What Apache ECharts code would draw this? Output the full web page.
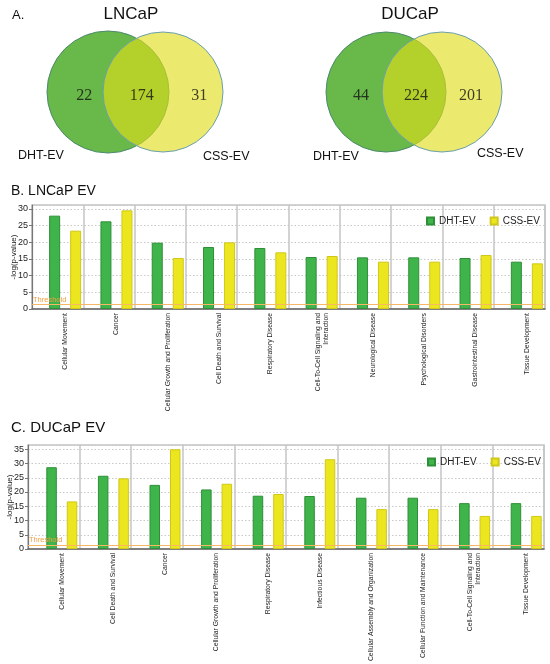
<!DOCTYPE html>
<html><head><meta charset="utf-8">
<script src="https://cdn.jsdelivr.net/npm/echarts@6/dist/echarts.min.js"></script>
<style>html,body{margin:0;padding:0;background:#fff}#c{width:550px;height:664px}</style>
</head><body><div id="c"></div>
<script>
const lncapCategories = ['Cellular Movement','Cancer','Cellular Growth and Proliferation','Cell Death and Survival','Respiratory Disease','Cell-To-Cell Signaling and\nInteraction','Neurological Disease','Psychological Disorders','Gastrointestinal Disease','Tissue Development'];
const lncapDHT = [28.0,26.3,19.9,18.6,18.3,15.6,15.5,15.5,15.3,14.2];
const lncapCSS = [23.5,29.6,15.3,20.0,17.0,15.9,14.2,14.2,16.2,13.7];
const ducapCategories = ['Cellular Movement','Cell Death and Survival','Cancer','Cellular Growth and Proliferation','Respiratory Disease','Infectious Disease','Cellular Assembly and Organization','Cellular Function and Maintenance','Cell-To-Cell Signaling and\nInteraction','Tissue Development'];
const ducapDHT = [28.7,25.7,22.5,20.9,18.7,18.6,18.0,18.0,16.1,16.1];
const ducapCSS = [16.7,24.8,35.0,22.9,19.3,31.5,14.0,14.0,11.6,11.6];
const vennRegions = ['DHT-EV only','Both','CSS-EV only'];
const lncapCounts = [22,174,31];
const ducapCounts = [44,224,201];
const seriesNames = ['DHT-EV','CSS-EV'];
const yStep = 5;
const thresholdValue = 1.3;

const SANS = '"Liberation Sans", Arial, sans-serif';
const SERIF = '"Liberation Serif", "Times New Roman", serif';
const GREEN = '#3fb44a', GREEN_B = '#2e8f38';
const YELLOW = '#ece61f', YELLOW_B = '#cfc81a';

const grid = [], xAxis = [], yAxis = [], series = [], legend = [];

function panel(P) {
  const gF = grid.length;
  grid.push({left: P.left, top: P.top, width: P.width, height: P.height, show: true,
             borderColor: '#c4c4c4', borderWidth: 1.5, outerBoundsMode: 'none', containLabel: false});
  const gB = grid.length;
  grid.push({left: P.left + P.shift, top: P.top, width: P.width, height: P.height,
             outerBoundsMode: 'none', containLabel: false});
  const xF = xAxis.length;
  xAxis.push({gridIndex: gF, type: 'value', min: 0, max: P.cats.length, interval: 1,
    axisLine: {show: true, onZero: false, lineStyle: {color: '#666', width: 1.5}},
    axisTick: {show: false}, axisLabel: {show: false},
    splitLine: {show: true, lineStyle: {color: '#c4c4c4', width: 1.5}}});
  const xB = xAxis.length;
  xAxis.push({gridIndex: gB, type: 'category', data: P.cats,
    axisLine: {show: false}, axisTick: {show: false}, splitLine: {show: false},
    axisLabel: {rotate: 90, interval: 0, fontSize: 6.8, color: '#222', margin: 4, fontFamily: SANS, lineHeight: 8}});
  const yF = yAxis.length;
  yAxis.push({gridIndex: gF, type: 'value', min: 0, max: P.ymax, interval: yStep,
    name: '-log(p-value)', nameLocation: 'middle', nameGap: P.nameGap, nameMoveOverlap: false,
    nameTextStyle: {fontSize: 8, color: '#222', fontFamily: SANS},
    axisLine: {show: true, lineStyle: {color: '#777', width: 1.2}},
    axisTick: {show: true, length: 3, lineStyle: {color: '#777'}},
    axisLabel: {fontSize: 9, color: '#222', margin: 4, fontFamily: SANS, showMaxLabel: false},
    splitLine: {show: true, lineStyle: {type: [1.5, 2], color: '#c8c8c8'}}});
  const yB = yAxis.length;
  yAxis.push({gridIndex: gB, type: 'value', min: 0, max: P.ymax, show: false});
  series.push({name: seriesNames[0], type: 'bar', xAxisIndex: xB, yAxisIndex: yB, data: P.dht,
    barWidth: P.barW, barGap: P.gap, itemStyle: {color: GREEN, borderColor: GREEN_B, borderWidth: 1}});
  series.push({name: seriesNames[1], type: 'bar', xAxisIndex: xB, yAxisIndex: yB, data: P.css,
    barWidth: P.barW, barGap: P.gap, itemStyle: {color: YELLOW, borderColor: YELLOW_B, borderWidth: 1}});
  series.push({type: 'line', xAxisIndex: xF, yAxisIndex: yF, data: [], silent: true,
    markLine: {silent: true, symbol: ['none', 'none'],
      lineStyle: {color: '#f6b866', width: 1, type: 'solid'},
      label: {show: true, position: 'insideStartTop', formatter: 'Threshold', color: '#f0a040',
              fontSize: 7.5, fontFamily: SANS, distance: [1, 1]},
      data: [{yAxis: thresholdValue}]}});
  legend.push({left: P.legLeft, top: P.legTop, itemWidth: 7, itemHeight: 7, itemGap: 14, icon: 'rect',
    textStyle: {fontSize: 10, color: '#222', fontFamily: SANS}, data: seriesNames});
}

panel({left: 32, top: 205, width: 513, height: 104, shift: 7.5, ymax: 31.2,
  cats: lncapCategories, dht: lncapDHT, css: lncapCSS, barW: 11, gap: '91%', nameGap: 14,
  legLeft: 421, legTop: 211});
panel({left: 28, top: 445, width: 516, height: 104, shift: 8, ymax: 36.5,
  cats: ducapCategories, dht: ducapDHT, css: ducapCSS, barW: 10.5, gap: '95%', nameGap: 14,
  legLeft: 422, legTop: 452});

function venn(left, width, counts) {
  const g = grid.length;
  grid.push({left: left, top: 86, width: width, height: 20, outerBoundsMode: 'none', containLabel: false});
  const xi = xAxis.length;
  xAxis.push({gridIndex: g, type: 'category', data: vennRegions, show: false});
  const yi = yAxis.length;
  yAxis.push({gridIndex: g, type: 'value', min: -1, max: 1, show: false});
  series.push({type: 'scatter', xAxisIndex: xi, yAxisIndex: yi, symbolSize: 1, silent: true,
    itemStyle: {color: 'rgba(0,0,0,0)'}, z: 10,
    data: counts.map((c, i) => [i, 0, c]),
    label: {show: true, position: 'inside', formatter: p => String(p.value[2]),
      fontFamily: SERIF, fontSize: 16, color: '#111'}});
}
venn(55.5, 172.5, lncapCounts);
venn(333.5, 165, ducapCounts);

function circle(cx, cy, r, fill, stroke) {
  return {type: 'circle', z: 0, silent: true, shape: {cx: cx, cy: cy, r: r},
          style: {fill: fill, stroke: stroke, lineWidth: 1}};
}
function txt(x, y, text, size, align, family) {
  return {type: 'text', z: 50, silent: true, x: x, y: y,
          style: {text: text, font: size + 'px ' + (family || SANS), fill: '#111',
                  align: align || 'left', verticalAlign: 'middle'}};
}
const greenFill = '#68b84a', greenStroke = '#4d8a6e';
const yellowFill = 'rgba(225,222,25,0.63)', yellowStroke = '#6a9fb0';

const graphic = [
  circle(108, 92, 61, greenFill, greenStroke),
  circle(163, 92, 60, yellowFill, yellowStroke),
  circle(386, 92, 60, greenFill, greenStroke),
  circle(442, 92, 60, yellowFill, yellowStroke),
  txt(12, 15, 'A.', 13),
  txt(131, 14, 'LNCaP', 17, 'center'),
  txt(410, 14, 'DUCaP', 17, 'center'),
  txt(18, 156, 'DHT-EV', 12.5),
  txt(203, 157, 'CSS-EV', 12.5),
  txt(313, 157, 'DHT-EV', 12.5),
  txt(477, 154, 'CSS-EV', 12.5),
  txt(11, 191, 'B. LNCaP EV', 14),
  txt(11, 428, 'C. DUCaP EV', 15)
];

const chart = echarts.init(document.getElementById('c'), null, {renderer: 'canvas'});
chart.setOption({animation: false, backgroundColor: '#fff', grid, xAxis, yAxis, series, legend, graphic});
</script></body></html>
